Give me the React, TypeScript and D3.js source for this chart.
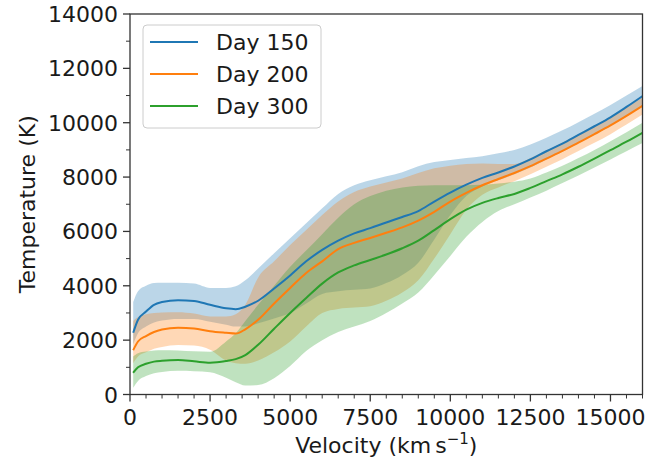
import React from "react";
import * as d3 from "d3";

const velocity = [100, 250, 500, 750, 1000, 1500, 2000, 2500, 3000, 3300, 3600, 4000, 4500, 5000, 5500, 6000, 6500, 7000, 7500, 8000, 8500, 9000, 9500, 10000, 10500, 11000, 11500, 12000, 12500, 13000, 13500, 14000, 14500, 15000, 15500, 16000];

const day150Mean = [2270, 2750, 3050, 3300, 3400, 3470, 3440, 3300, 3170, 3140, 3230, 3450, 3900, 4380, 4900, 5320, 5660, 5930, 6120, 6330, 6530, 6750, 7100, 7430, 7720, 7970, 8170, 8390, 8650, 8950, 9230, 9550, 9870, 10200, 10580, 10980];
const day150Upper = [3400, 3800, 4000, 4100, 4110, 4110, 4080, 3920, 3920, 3980, 4200, 4640, 5200, 5750, 6300, 6850, 7380, 7700, 7880, 8030, 8180, 8400, 8550, 8630, 8700, 8770, 8880, 9000, 9200, 9450, 9720, 10020, 10330, 10650, 11000, 11350];
const day150Lower = [1850, 2250, 2500, 2650, 2720, 2780, 2780, 2680, 2570, 2500, 2500, 2620, 2800, 3000, 3350, 3700, 3800, 3850, 3900, 4100, 4400, 4850, 5700, 6600, 7300, 7650, 7880, 8100, 8350, 8650, 8930, 9250, 9560, 9880, 10230, 10620];

const day200Mean = [1630, 1950, 2150, 2300, 2390, 2460, 2430, 2330, 2270, 2240, 2400, 2750, 3350, 3920, 4470, 4900, 5350, 5580, 5760, 5950, 6150, 6400, 6720, 7100, 7420, 7700, 7930, 8150, 8400, 8680, 8960, 9270, 9580, 9900, 10250, 10620];
const day200Upper = [2700, 2850, 2950, 3000, 3020, 3030, 2980, 2870, 2870, 2950, 3300, 4300, 4900, 5500, 6050, 6600, 7100, 7450, 7650, 7800, 7950, 8150, 8320, 8420, 8480, 8500, 8480, 8480, 8700, 8980, 9270, 9580, 9900, 10220, 10570, 10930];
const day200Lower = [1150, 1400, 1550, 1680, 1750, 1820, 1800, 1650, 1250, 1150, 1130, 1250, 1550, 1950, 2500, 3000, 3150, 3200, 3250, 3450, 3750, 4200, 5000, 5900, 6800, 7350, 7620, 7850, 8100, 8380, 8660, 8960, 9260, 9580, 9930, 10300];

const day300Mean = [800, 1000, 1130, 1210, 1240, 1265, 1220, 1170, 1230, 1300, 1450, 1830, 2420, 3000, 3550, 4080, 4490, 4750, 4950, 5150, 5380, 5660, 6050, 6450, 6800, 7050, 7230, 7380, 7600, 7850, 8100, 8380, 8680, 8990, 9300, 9630];
const day300Upper = [1400, 1520, 1580, 1620, 1630, 1620, 1590, 1570, 1950, 2250, 2700, 3300, 4000, 4700, 5300, 5900, 6500, 7000, 7300, 7500, 7620, 7680, 7700, 7700, 7700, 7720, 7760, 7830, 7950, 8170, 8420, 8700, 9000, 9320, 9650, 10000];
const day300Lower = [250, 500, 680, 780, 830, 870, 860, 820, 620, 450, 330, 350, 600, 1050, 1600, 2000, 2300, 2500, 2700, 3000, 3350, 3750, 4400, 5100, 5800, 6350, 6750, 7000, 7250, 7500, 7780, 8060, 8350, 8650, 8950, 9250];

const seriesNames = ["Day 150", "Day 200", "Day 300"];
const seriesColors = ["#1f77b4", "#ff7f0e", "#2ca02c"];
const xTicks = [0, 2500, 5000, 7500, 10000, 12500, 15000];
const yTicks = [0, 2000, 4000, 6000, 8000, 10000, 12000, 14000];

const W = 667;
const H = 464;
const M = { left: 130, top: 14, right: 24.5, bottom: 69.5 };
const FONT = "DejaVu Sans, sans-serif";

export default function App() {
  const x = d3.scaleLinear().domain([0, 16000]).range([M.left, W - M.right]);
  const y = d3.scaleLinear().domain([0, 14000]).range([H - M.bottom, M.top]);

  const series = [
    { mean: day150Mean, lo: day150Lower, hi: day150Upper },
    { mean: day200Mean, lo: day200Lower, hi: day200Upper },
    { mean: day300Mean, lo: day300Lower, hi: day300Upper },
  ];

  const line = d3
    .line<number>()
    .x((_, i) => x(velocity[i]))
    .y((d) => y(d))
    .curve(d3.curveMonotoneX);

  const area = (lo: number[], hi: number[]) =>
    d3
      .area<number>()
      .x((_, i) => x(velocity[i]))
      .y0((_, i) => y(lo[i]))
      .y1((_, i) => y(hi[i]))
      .curve(d3.curveMonotoneX)(velocity) as string;

  const minorX = d3.range(0, 16001, 500).filter((v) => v % 2500 !== 0);
  const minorY = d3.range(1000, 14000, 2000);

  const x0 = M.left;
  const x1 = W - M.right;
  const y0 = H - M.bottom;
  const y1 = M.top;

  return (
    <svg
      width={W}
      height={H}
      style={{ position: "absolute", left: 0, top: 0, background: "#fff" }}
      fontFamily={FONT}
    >
      <defs>
        <clipPath id="plotclip">
          <rect x={x0} y={y1} width={x1 - x0} height={y0 - y1} />
        </clipPath>
      </defs>
      <g clipPath="url(#plotclip)">
        {series.map((s, i) => (
          <path key={"a" + i} d={area(s.lo, s.hi)} fill={seriesColors[i]} fillOpacity={0.3} stroke="none" />
        ))}
        {series.map((s, i) => (
          <path key={"l" + i} d={line(s.mean) as string} fill="none" stroke={seriesColors[i]} strokeWidth={2} />
        ))}
      </g>

      {/* spines */}
      <rect x={x0} y={y1} width={x1 - x0} height={y0 - y1} fill="none" stroke="#333" strokeWidth={1.3} />

      {/* x ticks */}
      {xTicks.map((t) => (
        <g key={"xt" + t}>
          <line x1={x(t)} x2={x(t)} y1={y0} y2={y0 + 7} stroke="#333" strokeWidth={1.3} />
          <text x={x(t)} y={y0 + 30} textAnchor="middle" fontSize={22} fill="#1a1a1a">
            {t}
          </text>
        </g>
      ))}
      {minorX.map((t) => (
        <line key={"xm" + t} x1={x(t)} x2={x(t)} y1={y0} y2={y0 + 4} stroke="#333" strokeWidth={1} />
      ))}

      {/* y ticks */}
      {yTicks.map((t) => (
        <g key={"yt" + t}>
          <line x1={x0 - 7} x2={x0} y1={y(t)} y2={y(t)} stroke="#333" strokeWidth={1.3} />
          <text x={x0 - 12} y={y(t) + 8} textAnchor="end" fontSize={22} fill="#1a1a1a">
            {t}
          </text>
        </g>
      ))}
      {minorY.map((t) => (
        <line key={"ym" + t} x1={x0 - 4} x2={x0} y1={y(t)} y2={y(t)} stroke="#333" strokeWidth={1} />
      ))}

      {/* axis labels */}
      <text x={(x0 + x1) / 2} y={453} textAnchor="middle" fontSize={22} fill="#1a1a1a">
        Velocity (km
        <tspan dx={4}>s</tspan>
        <tspan dy={-9} fontSize={15}>−1</tspan>
        <tspan dy={9}>)</tspan>
      </text>
      <text
        transform={`translate(${35}, ${(y0 + y1) / 2}) rotate(-90)`}
        textAnchor="middle"
        fontSize={22}
        fill="#1a1a1a"
      >
        Temperature (K)
      </text>

      {/* legend */}
      <rect x={143} y={25} width={178} height={103} rx={4} ry={4} fill="#fff" fillOpacity={0.8} stroke="#cccccc" strokeWidth={1} />
      {seriesNames.map((n, i) => (
        <g key={"lg" + i}>
          <line x1={150} x2={198} y1={42 + i * 32} y2={42 + i * 32} stroke={seriesColors[i]} strokeWidth={2} />
          <text x={216} y={42 + i * 32 + 8} fontSize={22} fill="#1a1a1a">
            {n}
          </text>
        </g>
      ))}
    </svg>
  );
}
